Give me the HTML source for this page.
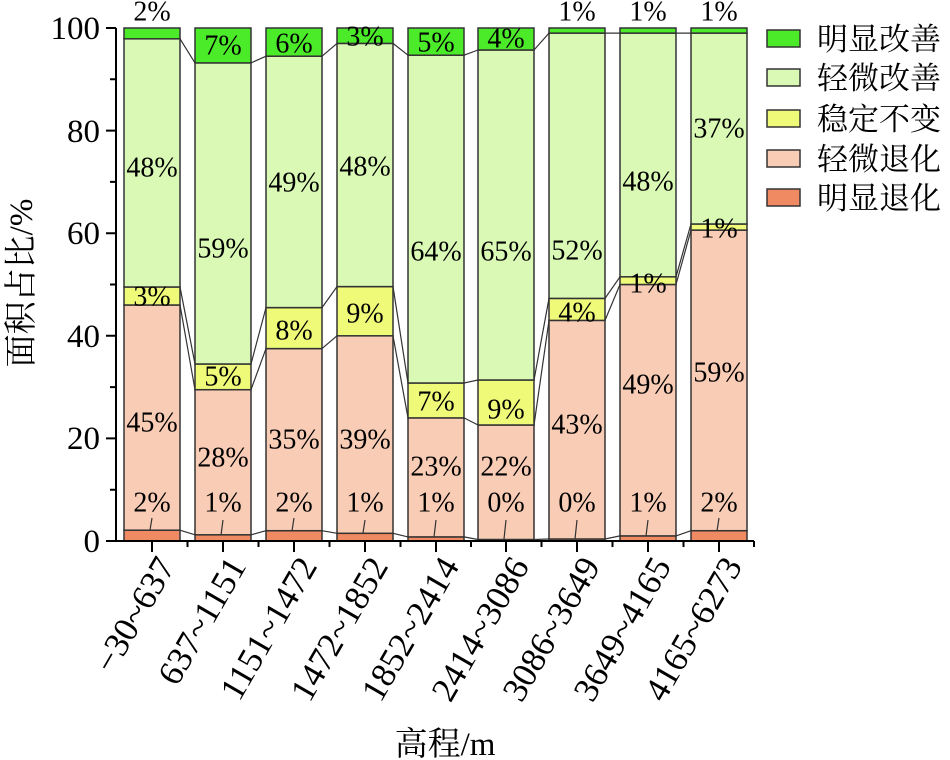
<!DOCTYPE html>
<html><head><meta charset="utf-8"><style>
body{margin:0;background:#fff;}
svg{display:block;font-family:"Liberation Serif","Noto Serif CJK SC",serif;}
.l{font-size:28px;text-anchor:middle;dominant-baseline:central;fill:#000}
.t{font-size:35px;text-anchor:end;fill:#000}
.lg{font-size:31px;fill:#000;font-family:"Liberation Serif","Noto Serif CJK SC","Noto Sans CJK SC",serif}
</style></head><body>
<svg width="950" height="760" viewBox="0 0 950 760" xmlns="http://www.w3.org/2000/svg">
<g stroke="#333" stroke-width="1.5">
<rect x="124" y="530.2" width="56" height="10.8" fill="#ef8a62"/>
<rect x="124" y="305" width="56" height="225.2" fill="#f9ccb5"/>
<rect x="124" y="287" width="56" height="18" fill="#eefa78"/>
<rect x="124" y="38.8" width="56" height="248.2" fill="#d9f9b5"/>
<rect x="124" y="28" width="56" height="10.8" fill="#4ceb2a"/>
<rect x="195" y="534.8" width="56" height="6.2" fill="#ef8a62"/>
<rect x="195" y="389.7" width="56" height="145.1" fill="#f9ccb5"/>
<rect x="195" y="364" width="56" height="25.7" fill="#eefa78"/>
<rect x="195" y="62.9" width="56" height="301.1" fill="#d9f9b5"/>
<rect x="195" y="28" width="56" height="34.9" fill="#4ceb2a"/>
<rect x="266" y="530.7" width="56" height="10.3" fill="#ef8a62"/>
<rect x="266" y="348.6" width="56" height="182.1" fill="#f9ccb5"/>
<rect x="266" y="307.6" width="56" height="41" fill="#eefa78"/>
<rect x="266" y="56.2" width="56" height="251.4" fill="#d9f9b5"/>
<rect x="266" y="28" width="56" height="28.2" fill="#4ceb2a"/>
<rect x="337" y="533.3" width="56" height="7.7" fill="#ef8a62"/>
<rect x="337" y="335.8" width="56" height="197.5" fill="#f9ccb5"/>
<rect x="337" y="286.6" width="56" height="49.2" fill="#eefa78"/>
<rect x="337" y="43.4" width="56" height="243.2" fill="#d9f9b5"/>
<rect x="337" y="28" width="56" height="15.4" fill="#4ceb2a"/>
<rect x="408" y="536.9" width="56" height="4.1" fill="#ef8a62"/>
<rect x="408" y="417.9" width="56" height="119" fill="#f9ccb5"/>
<rect x="408" y="383" width="56" height="34.9" fill="#eefa78"/>
<rect x="408" y="55.2" width="56" height="327.8" fill="#d9f9b5"/>
<rect x="408" y="28" width="56" height="27.2" fill="#4ceb2a"/>
<rect x="478" y="539.5" width="56" height="1.5" fill="#ef8a62"/>
<rect x="478" y="425" width="56" height="114.5" fill="#f9ccb5"/>
<rect x="478" y="380" width="56" height="45" fill="#eefa78"/>
<rect x="478" y="50" width="56" height="330" fill="#d9f9b5"/>
<rect x="478" y="28" width="56" height="22" fill="#4ceb2a"/>
<rect x="549" y="539" width="56" height="2" fill="#ef8a62"/>
<rect x="549" y="320.4" width="56" height="218.6" fill="#f9ccb5"/>
<rect x="549" y="298.4" width="56" height="22" fill="#eefa78"/>
<rect x="549" y="33.1" width="56" height="265.3" fill="#d9f9b5"/>
<rect x="549" y="28" width="56" height="5.1" fill="#4ceb2a"/>
<rect x="620" y="535.9" width="56" height="5.1" fill="#ef8a62"/>
<rect x="620" y="284.5" width="56" height="251.4" fill="#f9ccb5"/>
<rect x="620" y="276.8" width="56" height="7.7" fill="#eefa78"/>
<rect x="620" y="33.1" width="56" height="243.7" fill="#d9f9b5"/>
<rect x="620" y="28" width="56" height="5.1" fill="#4ceb2a"/>
<rect x="691" y="530.7" width="56" height="10.3" fill="#ef8a62"/>
<rect x="691" y="230.1" width="56" height="300.6" fill="#f9ccb5"/>
<rect x="691" y="224" width="56" height="6.1" fill="#eefa78"/>
<rect x="691" y="33.1" width="56" height="190.9" fill="#d9f9b5"/>
<rect x="691" y="28" width="56" height="5.1" fill="#4ceb2a"/>
</g>
<g stroke="#333" stroke-width="1.2" fill="none">
<path d="M180,530.2L195,534.8M251,534.8L266,530.7M322,530.7L337,533.3M393,533.3L408,536.9M464,536.9L478,539.5M534,539.5L549,539M605,539L620,535.9M676,535.9L691,530.7"/>
<path d="M180,305L195,389.7M251,389.7L266,348.6M322,348.6L337,335.8M393,335.8L408,417.9M464,417.9L478,425M534,425L549,320.4M605,320.4L620,284.5M676,284.5L691,230.1"/>
<path d="M180,287L195,364M251,364L266,307.6M322,307.6L337,286.6M393,286.6L408,383M464,383L478,380M534,380L549,298.4M605,298.4L620,276.8M676,276.8L691,224"/>
<path d="M180,38.8L195,62.9M251,62.9L266,56.2M322,56.2L337,43.4M393,43.4L408,55.2M464,55.2L478,50M534,50L549,33.1M605,33.1L620,33.1M676,33.1L691,33.1"/>
<path d="M152,518L150,530M223,520L221,535M294,518L292,531M365,520L363,533M436,520L434,537M506,520L504,539M577,520L575,539M648,520L646,536M719,518L717,531"/>
</g>
<g stroke="#000" stroke-width="2" fill="none">
<path d="M116,28V541H754"/>
<path d="M106,541H116M106,438.4H116M106,335.8H116M106,233.2H116M106,130.6H116M106,28H116"/>
<path d="M110,489.7H116M110,387.1H116M110,284.5H116M110,181.9H116M110,79.3H116"/>
<path d="M152,541V552M223,541V552M294,541V552M365,541V552M436,541V552M506,541V552M577,541V552M648,541V552M719,541V552"/>
<path d="M187.5,541V547M258.5,541V547M329.5,541V547M400.5,541V547M471,541V547M541.5,541V547M612.5,541V547M683.5,541V547M754,541V547"/>
</g>
<g font-size="33" text-anchor="end" fill="#000">
<text x="100" y="552">0</text><text x="100" y="449">20</text><text x="100" y="347">40</text><text x="100" y="244">60</text><text x="100" y="142">80</text><text x="100" y="39">100</text>
</g>
<g>
<text class="l" x="152" y="12">2%</text><text class="l" x="152" y="168">48%</text><text class="l" x="152" y="297">3%</text><text class="l" x="152" y="423">45%</text><text class="l" x="152" y="503">2%</text>
<text class="l" x="223" y="46">7%</text><text class="l" x="223" y="249">59%</text><text class="l" x="223" y="377">5%</text><text class="l" x="223" y="458">28%</text><text class="l" x="223" y="503">1%</text>
<text class="l" x="294" y="44">6%</text><text class="l" x="294" y="183">49%</text><text class="l" x="294" y="331">8%</text><text class="l" x="294" y="440">35%</text><text class="l" x="294" y="503">2%</text>
<text class="l" x="365" y="37">3%</text><text class="l" x="365" y="167">48%</text><text class="l" x="365" y="314">9%</text><text class="l" x="365" y="440">39%</text><text class="l" x="365" y="503">1%</text>
<text class="l" x="436" y="43">5%</text><text class="l" x="436" y="252">64%</text><text class="l" x="436" y="402">7%</text><text class="l" x="436" y="467">23%</text><text class="l" x="436" y="503">1%</text>
<text class="l" x="506" y="39">4%</text><text class="l" x="506" y="252">65%</text><text class="l" x="506" y="410">9%</text><text class="l" x="506" y="467">22%</text><text class="l" x="506" y="503">0%</text>
<text class="l" x="577" y="12">1%</text><text class="l" x="577" y="251">52%</text><text class="l" x="577" y="313">4%</text><text class="l" x="577" y="425">43%</text><text class="l" x="577" y="503">0%</text>
<text class="l" x="648" y="12">1%</text><text class="l" x="648" y="182">48%</text><text class="l" x="648" y="284">1%</text><text class="l" x="648" y="385">49%</text><text class="l" x="648" y="503">1%</text>
<text class="l" x="719" y="12">1%</text><text class="l" x="719" y="129">37%</text><text class="l" x="719" y="229">1%</text><text class="l" x="719" y="373">59%</text><text class="l" x="719" y="503">2%</text>
</g>
<g>
<text class="t" transform="translate(176,566) rotate(-60)">−30~637</text>
<text class="t" transform="translate(247,566) rotate(-60)">637~1151</text>
<text class="t" transform="translate(318,566) rotate(-60)">1151~1472</text>
<text class="t" transform="translate(389,566) rotate(-60)">1472~1852</text>
<text class="t" transform="translate(460,566) rotate(-60)">1852~2414</text>
<text class="t" transform="translate(530,566) rotate(-60)">2414~3086</text>
<text class="t" transform="translate(601,566) rotate(-60)">3086~3649</text>
<text class="t" transform="translate(672,566) rotate(-60)">3649~4165</text>
<text class="t" transform="translate(743,566) rotate(-60)">4165~6273</text>
</g>
<text class="lg" x="445" y="755" text-anchor="middle" style="font-size:33px">高程/m</text>
<text class="lg" transform="translate(32,283) rotate(-90)" text-anchor="middle" style="font-size:33px">面积占比/%</text>
<g stroke="#333" stroke-width="1.5">
<rect x="767" y="30" width="33" height="17" fill="#4ceb2a"/>
<rect x="767" y="69" width="33" height="17" fill="#d9f9b5"/>
<rect x="767" y="110" width="33" height="17" fill="#eefa78"/>
<rect x="767" y="150" width="33" height="17" fill="#f9ccb5"/>
<rect x="767" y="189" width="33" height="17" fill="#ef8a62"/>
</g>
<text class="lg" x="817" y="50">明显改善</text>
<text class="lg" x="817" y="89">轻微改善</text>
<text class="lg" x="817" y="130">稳定不变</text>
<text class="lg" x="817" y="170">轻微退化</text>
<text class="lg" x="817" y="209">明显退化</text>
</svg>
</body></html>
